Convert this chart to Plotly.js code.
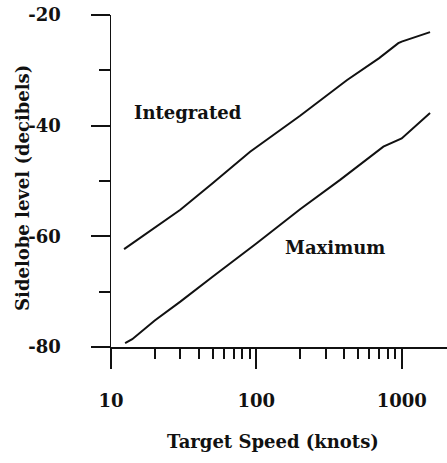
<!DOCTYPE html>
<html>
<head>
<meta charset="utf-8">
<script src="https://cdn.plot.ly/plotly-3.0.1.min.js"></script>
<style>
  html, body { margin: 0; padding: 0; background: #fff; }
  #chart { width: 447px; height: 463px; }
</style>
</head>
<body>
<div id="chart"></div>
<script>
// Sidelobe level versus target speed
const speedIntegrated = [12.3, 20, 30, 50, 90.6, 200, 419, 700, 948, 1000, 1567];
const levelIntegrated = [-62.3, -58.4, -55.2, -50.4, -44.7, -38.2, -31.8, -27.8, -25.1, -24.8, -23.1];

const speedMaximum = [12.5, 14, 20, 30, 50, 100, 200, 377, 748, 1000, 1567];
const levelMaximum = [-79.3, -78.6, -75.2, -71.8, -67.3, -61.3, -55.1, -49.8, -43.8, -42.3, -37.7];

const xMajorTicks = [10, 100, 1000];
const xTickLabels = ['10', '100', '1000'];
const xMinorTicks = [20, 30, 40, 50, 60, 70, 80, 90, 200, 300, 400, 500, 600, 700, 800, 900];
const yMajorTicks = [-80, -60, -40, -20];
const yTickLabels = ['-80', '-60', '-40', '-20'];
const yMinorTicks = [-70, -50, -30];

const xTitle = 'Target Speed (knots)';
const yTitle = 'Sidelobe level (decibels)';

const FONT = 'DejaVu Serif, Liberation Serif, serif';
const INK = '#111';
const TEXT = { family: FONT, size: 18, color: INK, weight: 'bold' };

const lineStyle = { color: INK, width: 2 };

const traces = [
  { x: speedIntegrated, y: levelIntegrated, mode: 'lines', line: lineStyle, name: 'Integrated', hoverinfo: 'x+y' },
  { x: speedMaximum, y: levelMaximum, mode: 'lines', line: lineStyle, name: 'Maximum', hoverinfo: 'x+y' }
];

const layout = {
  width: 447,
  height: 463,
  margin: { l: 111, r: 0, t: 15, b: 116 },
  paper_bgcolor: '#fff',
  plot_bgcolor: '#fff',
  showlegend: false,
  font: TEXT,
  xaxis: {
    type: 'log',
    range: [1, Math.log10(2050)],
    showgrid: false,
    zeroline: false,
    showline: true,
    linecolor: INK,
    linewidth: 1.5,
    ticks: 'outside',
    tickmode: 'array',
    tickvals: xMajorTicks,
    ticktext: xTickLabels,
    ticklen: 20,
    tickwidth: 2,
    tickcolor: INK,
    ticklabelstandoff: 17,
    tickfont: TEXT,
    minor: {
      tickmode: 'array',
      tickvals: xMinorTicks,
      ticks: 'outside',
      ticklen: 10,
      tickwidth: 2,
      tickcolor: INK,
      showgrid: false
    },
    fixedrange: true
  },
  yaxis: {
    range: [-80, -20],
    showgrid: false,
    zeroline: false,
    showline: true,
    linecolor: INK,
    linewidth: 1.5,
    ticks: 'outside',
    tickmode: 'array',
    tickvals: yMajorTicks,
    ticktext: yTickLabels,
    ticklen: 19,
    tickwidth: 2,
    tickcolor: INK,
    ticklabelstandoff: 26,
    tickfont: TEXT,
    minor: {
      tickmode: 'array',
      tickvals: yMinorTicks,
      ticks: 'outside',
      ticklen: 11,
      tickwidth: 2,
      tickcolor: INK,
      showgrid: false
    },
    fixedrange: true
  },
  annotations: [
    // axis titles
    { text: xTitle, xref: 'paper', yref: 'paper', x: 0.481, y: -0.286, showarrow: false,
      xanchor: 'center', yanchor: 'middle', font: TEXT },
    { text: yTitle, xref: 'paper', yref: 'paper', x: -0.262, y: 0.479, showarrow: false,
      textangle: -90, xanchor: 'center', yanchor: 'middle', font: TEXT },
    // curve labels
    { text: 'Integrated', xref: 'paper', yref: 'paper', x: 0.229, y: 0.705, showarrow: false,
      xanchor: 'center', yanchor: 'middle', font: TEXT },
    { text: 'Maximum', xref: 'paper', yref: 'paper', x: 0.667, y: 0.301, showarrow: false,
      xanchor: 'center', yanchor: 'middle', font: TEXT }
  ]
};

Plotly.newPlot('chart', traces, layout, { displayModeBar: false, staticPlot: true });
</script>
</body>
</html>
